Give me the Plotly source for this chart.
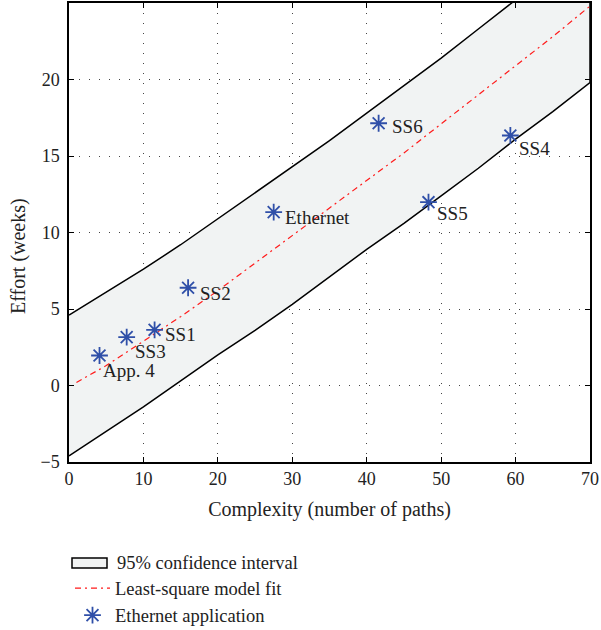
import plotly.graph_objects as go

# Band / fit sample positions (complexity)
band_x = [0, 5, 10, 15, 20, 25, 30, 35, 40, 45, 50, 55, 60, 65, 70]
upper = [4.6, 6.1, 7.6, 9.2, 10.9, 12.6, 14.3, 16.0, 17.8, 19.6, 21.4, 23.3, 25.2, 27.1, 29.0]
lower = [-4.6, -3.0, -1.4, 0.3, 2.0, 3.6, 5.3, 7.1, 8.9, 10.6, 12.4, 14.2, 16.1, 17.9, 19.8]

fit_x = [1, 5, 10, 15, 20, 25, 30, 35, 40, 45, 50, 55, 60, 65, 70]
fit_y = [0.2, 1.3, 2.9, 4.5, 6.2, 8.0, 9.8, 11.6, 13.4, 15.2, 17.1, 19.0, 20.9, 22.8, 24.8]

# Ethernet applications
app_names = ["App. 4", "SS3", "SS1", "SS2", "Ethernet", "SS6", "SS5", "SS4"]
app_x = [4.1, 7.75, 11.5, 16.0, 27.5, 41.6, 48.3, 59.3]
app_y = [1.96, 3.16, 3.64, 6.39, 11.33, 17.14, 11.98, 16.34]
label_dx = [1, 6, 8, 10, 9, 11, 7, 7]
label_dy = [-15, -14, -5, -6, -5, -3, -11, -13]

x_ticks = [0, 10, 20, 30, 40, 50, 60, 70]
y_ticks = [-5, 0, 5, 10, 15, 20]

band_label = "95% confidence interval"
fit_label = "Least-square model fit"
app_label = "Ethernet application"

FONT = "Liberation Serif"
TXT = "#222"
W, H = 601, 630
ML, MR, MT, MB = 69, 11, 3, 168
PW, PH = W - ML - MR, H - MT - MB
LEG_FONT = 18.5


def px_to_paper(px, py):
    return (px - ML) / PW, (H - MB - py) / PH


fig = go.Figure()

fig.add_trace(go.Scatter(
    x=band_x + band_x[::-1],
    y=upper + lower[::-1],
    mode="lines",
    fill="toself",
    fillcolor="#f1f3f3",
    line=dict(color="black", width=1.5),
    name=band_label,
    showlegend=False,
    hoverinfo="skip",
))

fig.add_trace(go.Scatter(
    x=fit_x, y=fit_y,
    mode="lines",
    line=dict(color="#ff1a1a", width=1.2, dash="6px,4px,2px,4px"),
    name=fit_label,
))

fig.add_trace(go.Scatter(
    x=app_x, y=app_y,
    mode="markers",
    marker=dict(symbol="asterisk-open", size=14,
                line=dict(color="#2f4fa8", width=1.8), color="#2f4fa8"),
    name=app_label,
))

for name, x, y, dx, dy in zip(app_names, app_x, app_y, label_dx, label_dy):
    fig.add_annotation(
        x=x, y=y, text=name, showarrow=False,
        xanchor="left", yanchor="middle",
        xshift=dx, yshift=dy,
        font=dict(family=FONT, size=19, color=TXT),
    )

# Y axis title (placed as in the reference, slightly below the axis centre)
tx, ty = px_to_paper(19, 256)
fig.add_annotation(
    x=tx, y=ty, xref="paper", yref="paper", text="Effort (weeks)",
    textangle=-90, showarrow=False, xanchor="center", yanchor="middle",
    font=dict(family=FONT, size=20, color=TXT),
)

# Legend entry for the confidence band (box with outline)
bx0, by0 = px_to_paper(72, 558)
bx1, by1 = px_to_paper(107, 568)
fig.add_shape(type="rect", xref="paper", yref="paper",
              x0=bx0, x1=bx1, y0=by0, y1=by1,
              fillcolor="#f1f3f3", line=dict(color="black", width=1.5))
lx, ly = px_to_paper(115, 563)
fig.add_annotation(
    x=lx, y=ly, xref="paper", yref="paper", text=band_label,
    showarrow=False, xanchor="left", yanchor="middle",
    font=dict(family=FONT, size=LEG_FONT, color=TXT),
)

axis_common = dict(
    showline=True, linecolor="black", linewidth=1.5,
    mirror="ticks", ticks="inside", ticklen=5, tickcolor="black", tickwidth=1.2,
    showgrid=True, gridcolor="#444", gridwidth=1, griddash="1px,9px",
    zeroline=False, automargin=False,
    tickfont=dict(family=FONT, size=18, color=TXT),
)

fig.update_xaxes(
    range=[0, 70], tickvals=x_ticks,
    title=dict(text="Complexity (number of paths)", font=dict(family=FONT, size=20, color=TXT),
               standoff=14),
    **axis_common,
)
fig.update_yaxes(
    range=[-5, 25], tickvals=y_ticks, ticklabelstandoff=4,
    **axis_common,
)

lgx, lgy = px_to_paper(70, 569.5)
fig.update_layout(
    width=W, height=H,
    margin=dict(l=ML, r=MR, t=MT, b=MB, autoexpand=False),
    plot_bgcolor="white", paper_bgcolor="white",
    font=dict(family=FONT, color=TXT),
    showlegend=True,
    legend=dict(
        x=lgx, y=lgy, xanchor="left", yanchor="top",
        font=dict(family=FONT, size=LEG_FONT, color=TXT),
        bgcolor="rgba(0,0,0,0)", borderwidth=0,
        itemwidth=35, tracegroupgap=0,
    ),
)

fig.write_html("out.html", config={"displayModeBar": False},
               post_script="document.body.style.margin='0px';")
